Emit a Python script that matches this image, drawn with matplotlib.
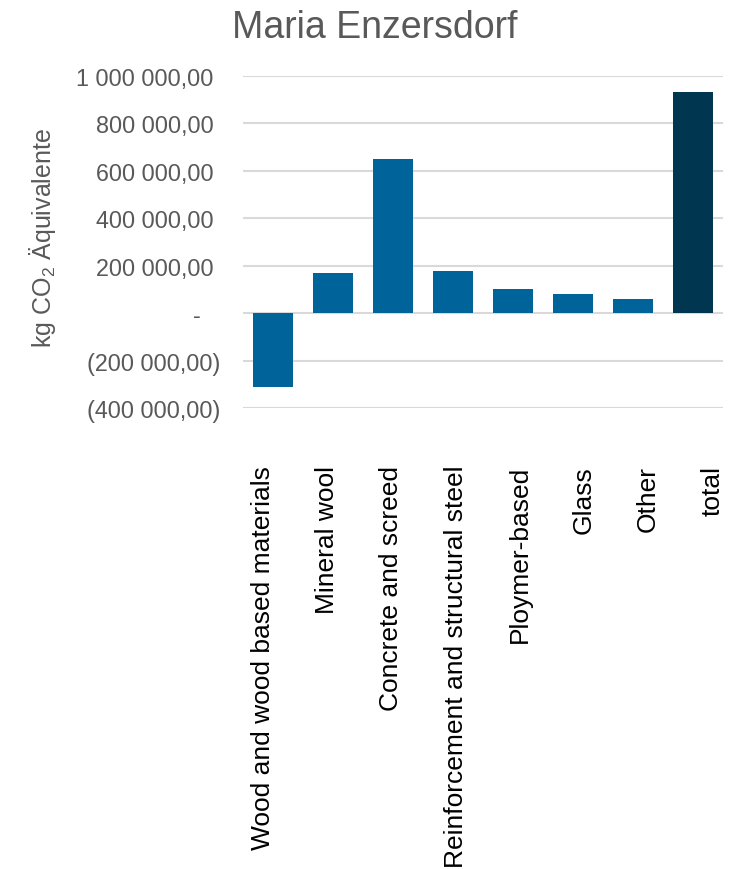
import numpy as np
import matplotlib
matplotlib.use("Agg")
import matplotlib.pyplot as plt

plt.rcParams['font.family'] = ['Liberation Sans', 'DejaVu Sans']
plt.rcParams['mathtext.fontset'] = 'custom'
plt.rcParams['mathtext.rm'] = 'Liberation Sans'

# Embodied carbon per material group (kg CO2 equivalent)
categories = [
    "Wood and wood based materials",
    "Mineral wool",
    "Concrete and screed",
    "Reinforcement and structural steel",
    "Ploymer-based",
    "Glass",
    "Other",
    "total",
]
values = [-311000, 168000, 648000, 177000, 100000, 80000, 60000, 930000]
y_ticks = [-400000, -200000, 0, 200000, 400000, 600000, 800000, 1000000]

bar_color = "#00649A"
total_color = "#003650"
grid_color = "#D9D9D9"
text_gray = "#595959"


def fmt_value(v):
    """Accounting-style number: space thousands, comma decimals, parentheses for negatives."""
    if v == 0:
        return "-   "
    s = f"{abs(v):,.2f}".replace(",", " ").replace(".", ",")
    return f"({s})" if v < 0 else s + " "


fig = plt.figure(figsize=(7.36, 8.70), dpi=100)
ax = fig.add_axes([243 / 736, 1 - 409 / 870, 480 / 736, (409 - 76.7) / 870])

x = np.arange(len(categories))
colors = [bar_color] * (len(categories) - 1) + [total_color]
ax.bar(x, values, width=0.667, color=colors, zorder=3)

ax.set_xlim(-0.5, len(categories) - 0.5)
ax.set_ylim(-400000, 1000000)
ax.set_yticks(y_ticks)
ax.set_yticklabels([fmt_value(v) for v in y_ticks], fontsize=16.8, color=text_gray)
ax.yaxis.grid(True, color=grid_color, linewidth=1.5, zorder=0)
ax.tick_params(axis='y', length=0, pad=16.5)

# category labels sit slightly wider apart than the bars
label_pos = np.arange(len(categories)) * (64.2 / 60) - 0.167
ax.set_xticks(label_pos)
ax.set_xticklabels(categories, rotation=90, fontsize=19, color="#000000")
ax.tick_params(axis='x', length=0, pad=41)

for side in ("top", "right", "left", "bottom"):
    ax.spines[side].set_visible(False)

ax.set_ylabel(r"kg CO$_\mathregular{2}$ Äquivalente", fontsize=18, color=text_gray)
ax.yaxis.set_label_coords(-0.385, 0.515)

fig.text(374.5 / 736, 1 - 38 / 870, "Maria Enzersdorf", fontsize=27,
         color=text_gray, ha="center", va="baseline")

fig.savefig("out.png", dpi=100, facecolor="white")
